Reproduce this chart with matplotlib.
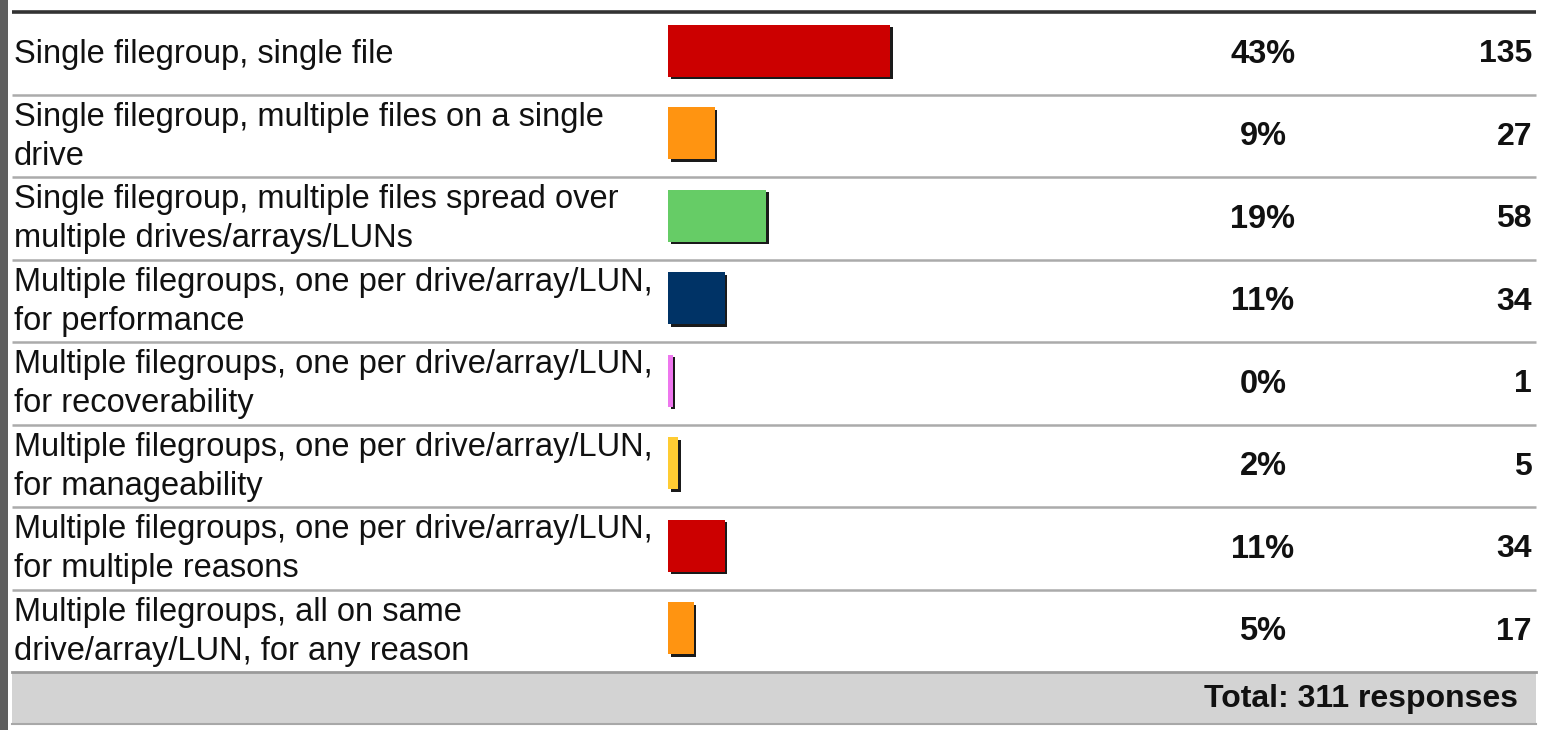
import matplotlib
matplotlib.use("Agg")
import matplotlib.pyplot as plt
import matplotlib.transforms as mtransforms

labels = [
    "Single filegroup, single file",
    "Single filegroup, multiple files on a single\ndrive",
    "Single filegroup, multiple files spread over\nmultiple drives/arrays/LUNs",
    "Multiple filegroups, one per drive/array/LUN,\nfor performance",
    "Multiple filegroups, one per drive/array/LUN,\nfor recoverability",
    "Multiple filegroups, one per drive/array/LUN,\nfor manageability",
    "Multiple filegroups, one per drive/array/LUN,\nfor multiple reasons",
    "Multiple filegroups, all on same\ndrive/array/LUN, for any reason",
]
percents = [43, 9, 19, 11, 0, 2, 11, 5]
counts = [135, 27, 58, 34, 1, 5, 34, 17]
colors = ["#CC0000", "#FF9411", "#66CC66", "#003366", "#EE77EE", "#FFCC33", "#CC0000", "#FF9411"]
total_text = "Total: 311 responses"

W, H = 1543, 730
fig = plt.figure(figsize=(W / 100, H / 100), dpi=100)
fig.patch.set_facecolor("white")

bg = fig.add_axes([0, 0, 1, 1])
bg.set_xlim(0, W)
bg.set_ylim(H, 0)
bg.axis("off")

FONT = "Liberation Sans"
top, row_h = 12, 82.5
n = len(labels)

# left dark strip
bg.add_patch(plt.Rectangle((0, 0), 8, H, color="#5f5f5f", lw=0))
# top rule
bg.plot([12, 1536], [top, top], color="#333333", lw=2.6, solid_capstyle="butt")
# row separators
for i in range(1, n):
    y = top + i * row_h
    bg.plot([12, 1536], [y, y], color="#ababab", lw=1.8, solid_capstyle="butt")
# total row
ty0 = top + n * row_h
bg.add_patch(plt.Rectangle((12, ty0), 1524, 52, facecolor="#d3d3d3", edgecolor="none"))
bg.plot([12, 1536], [ty0, ty0], color="#9a9a9a", lw=2)
bg.plot([12, 1536], [ty0 + 52, ty0 + 52], color="#a8a8a8", lw=1.5)
bg.text(1518, ty0 + 27, total_text, ha="right", va="center", fontsize=23,
        fontweight="bold", family=FONT, color="#111111")

for i in range(n):
    yc = top + (i + 0.5) * row_h + 1
    bg.text(14, yc, labels[i], ha="left", va="center", fontsize=23.5,
            family=FONT, color="#111111", linespacing=1.32)
    bg.text(1263, yc, f"{percents[i]}%", ha="center", va="center", fontsize=23.5,
            fontweight="bold", family=FONT, color="#111111")
    bg.text(1532, yc, f"{counts[i]}", ha="right", va="center", fontsize=23,
            fontweight="bold", family=FONT, color="#111111")

# bar axes: percent scale starting at x=668 px
x0_px, px_per_pct = 668, 5.17
bar_ax = fig.add_axes([x0_px / W, (H - (top + n * row_h)) / H,
                       (px_per_pct * 100) / W, (n * row_h) / H])
bar_ax.set_xlim(0, 100)
bar_ax.set_ylim(n, 0)
bar_ax.axis("off")
bar_ax.patch.set_visible(False)

widths = [max(p, 0.9) for p in percents]
ypos = [i + 0.47 for i in range(n)]
shadow_tr = mtransforms.offset_copy(bar_ax.transData, fig=fig, x=2.5, y=-2.5, units="dots")
bar_ax.barh(ypos, widths, height=0.63, color="#1a1a1a", transform=shadow_tr, lw=0)
bar_ax.barh(ypos, widths, height=0.63, color=colors, lw=0)

fig.savefig("out.png", dpi=100, facecolor="white")
